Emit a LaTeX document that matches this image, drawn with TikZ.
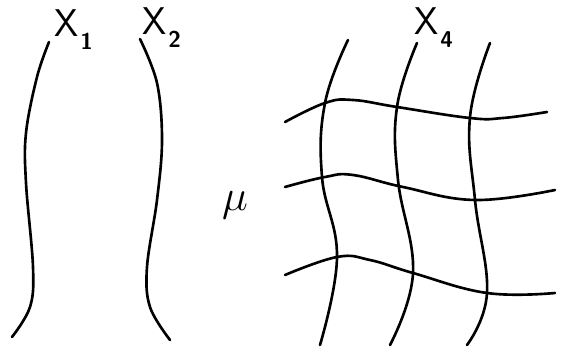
\documentclass[tikz,border=0pt]{standalone}
\usepackage{amsmath,amssymb}
\usepackage{tikz}
\usetikzlibrary{positioning}

\tikzset{
    curve/.style={line width=1.5pt, line cap=round},
    lbl/.style={font=\sffamily\fontsize{22}{22}\selectfont, inner sep=0pt, anchor=base west}
}

% Label of a fibre: letter with a lowered index
\newcommand\fiblabel[2]{#1\hspace{1pt}\raisebox{-7pt}{\fontsize{13}{13}\selectfont\bfseries #2}}

\begin{document}
\begin{tikzpicture}[x=0.02cm, y=-0.02cm]
\useasboundingbox (0,0) rectangle (563,354);

% Two separate fibres
\draw[curve] plot[smooth, tension=0.6] coordinates {(49,42) (37,77) (26,133) (26,183) (33,267) (30,307) (12,337)};
\draw[curve] plot[smooth, tension=0.6] coordinates {(140,39) (157,83) (162,140) (157,200) (147,267) (150,307) (170,340)};

% Labels of the fibres
\node[lbl] (xone) at (54,37) {\fiblabel{X}{1}};
\node[lbl] (xtwo) at (142,35) {\fiblabel{X}{2}};

% Measure
\node[font=\fontsize{34}{34}\selectfont, inner sep=0pt] (mu) at (235,205) {$\mu$};

% Grid: vertical curves
\draw[curve] plot[smooth, tension=0.7] coordinates {(348,40) (325,103) (322,177) (337,257) (320,345)};
\draw[curve] plot[smooth, tension=0.7] coordinates {(417,43) (397,107) (398,180) (413,273) (390,345)};
\draw[curve] plot[smooth, tension=0.7] coordinates {(490,43) (470,117) (475,200) (487,293) (467,345)};

% Grid: horizontal curves
\draw[curve] plot[smooth, tension=0.7] coordinates {(285,122) (325,103) (353,100) (397,107) (470,118) (503,118) (547,112)};
\draw[curve] plot[smooth, tension=0.7] coordinates {(285,187) (325,177) (353,175) (403,187) (475,200) (555,190)};
\draw[curve] plot[smooth, tension=0.7] coordinates {(285,275) (337,257) (370,260) (413,273) (487,293) (555,293)};

% Label of the grid
\node[lbl] (xfour) at (414,35) {\fiblabel{X}{4}};

\end{tikzpicture}
\end{document}
